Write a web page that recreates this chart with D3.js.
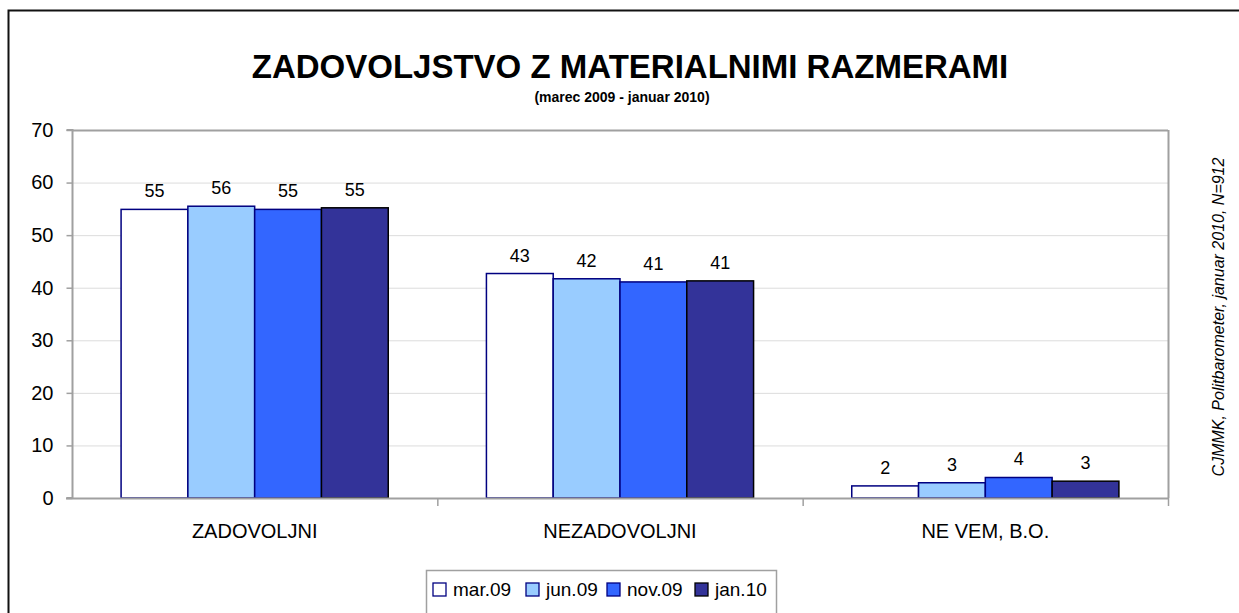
<!DOCTYPE html>
<html>
<head>
<meta charset="utf-8">
<script src="https://cdn.jsdelivr.net/npm/d3@7"></script>
<style>
  body { margin: 0; background: #fff; }
  svg { display: block; font-family: "Liberation Sans", Arial, sans-serif; }
</style>
</head>
<body>
<svg width="1239" height="613"></svg>
<script>
// data
var categories = ["ZADOVOLJNI", "NEZADOVOLJNI", "NE VEM, B.O."];
var series = ["mar.09", "jun.09", "nov.09", "jan.10"];
var values = [
  [54.9, 55.5, 54.9, 55.2],   // ZADOVOLJNI
  [42.7, 41.7, 41.1, 41.3],   // NEZADOVOLJNI
  [2.3, 2.9, 3.9, 3.2]        // NE VEM, B.O.
];
var labels = [
  ["55", "56", "55", "55"],
  ["43", "42", "41", "41"],
  ["2", "3", "4", "3"]
];
var yTicks = [0, 10, 20, 30, 40, 50, 60, 70];

var fills = ["#ffffff", "#99ccff", "#3366ff", "#333399"];
var strokes = ["#000080", "#000080", "#000080", "#000000"];

var svg = d3.select("svg");
var pLeft = 72, pRight = 1168, pTop = 130, pBottom = 498;

// outer frame
svg.append("rect")
  .attr("x", 8.5).attr("y", 10.5)
  .attr("width", 1260).attr("height", 640)
  .attr("fill", "none").attr("stroke", "#111").attr("stroke-width", 2);

var x0 = d3.scaleBand().domain(categories).range([pLeft, pRight]);
var x1 = d3.scaleBand().domain(series).range([0, x0.bandwidth()])
  .paddingOuter(0.735).paddingInner(0);
var y = d3.scaleLinear().domain([0, 70]).range([pBottom, pTop]);

// gridlines
svg.append("g").selectAll("line").data(yTicks.slice(1)).enter().append("line")
  .attr("x1", pLeft).attr("x2", pRight)
  .attr("y1", d => y(d) + 0.5).attr("y2", d => y(d) + 0.5)
  .attr("stroke", d => d == 70 ? "#a0a0a0" : "#dcdcdc").attr("stroke-width", d => d == 70 ? 2 : 1);

// right plot border
svg.append("line")
  .attr("x1", pRight + 0.5).attr("x2", pRight + 0.5)
  .attr("y1", pTop).attr("y2", pBottom)
  .attr("stroke", "#a0a0a0").attr("stroke-width", 2);

// bars
var groups = svg.append("g").selectAll("g").data(values).enter().append("g")
  .attr("transform", (d, i) => "translate(" + x0(categories[i]) + ",0)");

groups.selectAll("rect").data(d => d).enter().append("rect")
  .attr("x", (d, j) => x1(series[j]))
  .attr("y", d => y(d))
  .attr("width", x1.bandwidth())
  .attr("height", d => pBottom - y(d))
  .attr("fill", (d, j) => fills[j])
  .attr("stroke", (d, j) => strokes[j])
  .attr("stroke-width", 1.5);

groups.each(function(d, i) {
  d3.select(this).selectAll("text").data(d).enter().append("text")
    .attr("x", (v, j) => x1(series[j]) + x1.bandwidth() / 2)
    .attr("y", v => y(v) - 12)
    .attr("text-anchor", "middle")
    .attr("font-size", 18)
    .attr("fill", "#000")
    .text((v, j) => labels[i][j]);
});

// y axis
var yAxis = d3.axisLeft(y).tickValues(yTicks).tickSize(6).tickPadding(13);
var gy = svg.append("g").attr("transform", "translate(" + (pLeft + 0.5) + ",0)").call(yAxis);
gy.select(".domain").attr("stroke", "#a0a0a0").attr("stroke-width", 2).attr("d", "M-6," + pTop + "H0V" + pBottom + "H-6");
gy.selectAll(".tick line").attr("stroke", "#a0a0a0").attr("stroke-width", 1.5);
gy.selectAll(".tick text").attr("font-size", 20).attr("fill", "#000")
  .attr("font-family", "Liberation Sans, Arial, sans-serif");

// x axis
svg.append("line").attr("x1", pLeft - 6).attr("x2", pRight + 1)
  .attr("y1", pBottom + 0.5).attr("y2", pBottom + 0.5)
  .attr("stroke", "#a0a0a0").attr("stroke-width", 2);
svg.append("g").selectAll("line").data(categories).enter().append("line")
  .attr("x1", d => x0(d) + x0.bandwidth() + 0.5)
  .attr("x2", d => x0(d) + x0.bandwidth() + 0.5)
  .attr("y1", pBottom).attr("y2", pBottom + 8)
  .attr("stroke", "#a0a0a0").attr("stroke-width", 1.5);
svg.append("g").selectAll("text").data(categories).enter().append("text")
  .attr("x", d => x0(d) + x0.bandwidth() / 2)
  .attr("y", 538)
  .attr("text-anchor", "middle")
  .attr("font-size", 20)
  .text(d => d);

// titles
svg.append("text").attr("x", 630).attr("y", 78)
  .attr("text-anchor", "middle").attr("font-size", 33).attr("font-weight", "bold")
  .text("ZADOVOLJSTVO Z MATERIALNIMI RAZMERAMI");
svg.append("text").attr("x", 622).attr("y", 102)
  .attr("text-anchor", "middle").attr("font-size", 14).attr("font-weight", "bold")
  .text("(marec 2009 - januar 2010)");

// source note
svg.append("text")
  .attr("transform", "translate(1224,317) rotate(-90)")
  .attr("text-anchor", "middle").attr("font-size", 16).attr("font-style", "italic")
  .text("CJMMK, Politbarometer, januar 2010, N=912");

// legend
var lg = svg.append("g");
lg.append("rect").attr("x", 426.5).attr("y", 570.5).attr("width", 350).attr("height", 50)
  .attr("fill", "#fff").attr("stroke", "#a0a0a0").attr("stroke-width", 1.5);
var lx = [433, 526, 607, 695];
var items = lg.selectAll("g").data(series).enter().append("g")
  .attr("transform", (d, i) => "translate(" + lx[i] + ",583)");
items.append("rect").attr("width", 13).attr("height", 13)
  .attr("fill", (d, i) => fills[i]).attr("stroke", (d, i) => strokes[i]).attr("stroke-width", 1.3);
items.append("text").attr("x", 20).attr("y", 13).attr("font-size", 19).text(d => d);
</script>
</body>
</html>
